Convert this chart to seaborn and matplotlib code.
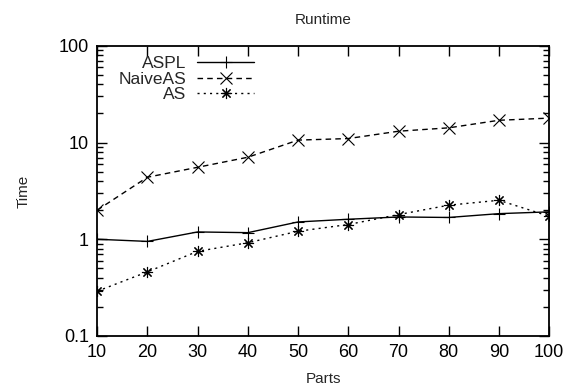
import numpy as np
import pandas as pd
import seaborn as sns
import matplotlib.pyplot as plt
from matplotlib.ticker import LogLocator, FixedLocator, NullLocator

# data
parts = [10, 20, 30, 40, 50, 60, 70, 80, 90, 100]
aspl = [1.0, 0.95, 1.19, 1.17, 1.51, 1.61, 1.70, 1.68, 1.84, 1.92]
naive_as = [2.0, 4.38, 5.55, 7.05, 10.6, 11.0, 13.1, 14.2, 17.0, 17.9]
as_vals = [0.29, 0.46, 0.75, 0.92, 1.21, 1.42, 1.80, 2.25, 2.53, 1.73]
series_names = ["ASPL", "NaiveAS", "AS"]

df = pd.DataFrame({
    "Parts": parts * 3,
    "Time": aspl + naive_as + as_vals,
    "series": [s for s in series_names for _ in parts],
})

sns.set_style("ticks")
plt.rcParams["font.family"] = ["Liberation Sans", "DejaVu Sans"]

fig = plt.figure(figsize=(5.65, 3.92), dpi=100)
ax = fig.add_axes([0.172, 0.143, 0.800, 0.740])

sns.lineplot(
    data=df, x="Parts", y="Time", style="series", style_order=series_names,
    markers={"ASPL": "+", "NaiveAS": "x", "AS": (8, 2, 0)},
    dashes={"ASPL": "", "NaiveAS": (4, 3), "AS": (1.5, 3)},
    color="black", linewidth=1.0, markersize=8, markeredgewidth=0.8,
    markeredgecolor="black", markerfacecolor="black",
    ax=ax,
)

ax.set_yscale("log")
ax.set_ylim(0.1, 100)
ax.set_xlim(10, 100)
ax.xaxis.set_major_locator(FixedLocator(parts))
ax.xaxis.set_minor_locator(NullLocator())
ax.yaxis.set_major_locator(FixedLocator([0.1, 1, 10, 100]))
ax.yaxis.set_minor_locator(LogLocator(base=10, subs=np.arange(2, 10)))
ax.set_yticklabels(["0.1", "1", "10", "100"])

for s in ax.spines.values():
    s.set_visible(True)
    s.set_linewidth(1.3)
    s.set_color("black")

ax.tick_params(which="both", direction="in", top=True, right=True,
               labelsize=13, colors="black", pad=6)
ax.tick_params(which="major", length=7, width=1.0)
ax.tick_params(which="minor", length=4, width=1.0)

ax.set_title("Runtime", fontsize=11, pad=16)
ax.set_xlabel("Parts", fontsize=11, labelpad=8)
ax.set_ylabel("Time", fontsize=11, labelpad=20)

leg = ax.legend(loc="upper left", frameon=False, markerfirst=False,
                fontsize=12.5, handlelength=3.3, handletextpad=0.6,
                labelspacing=0.0, borderaxespad=0.2, bbox_to_anchor=(0.025, 1.0))

fig.savefig("out.png", dpi=100)
